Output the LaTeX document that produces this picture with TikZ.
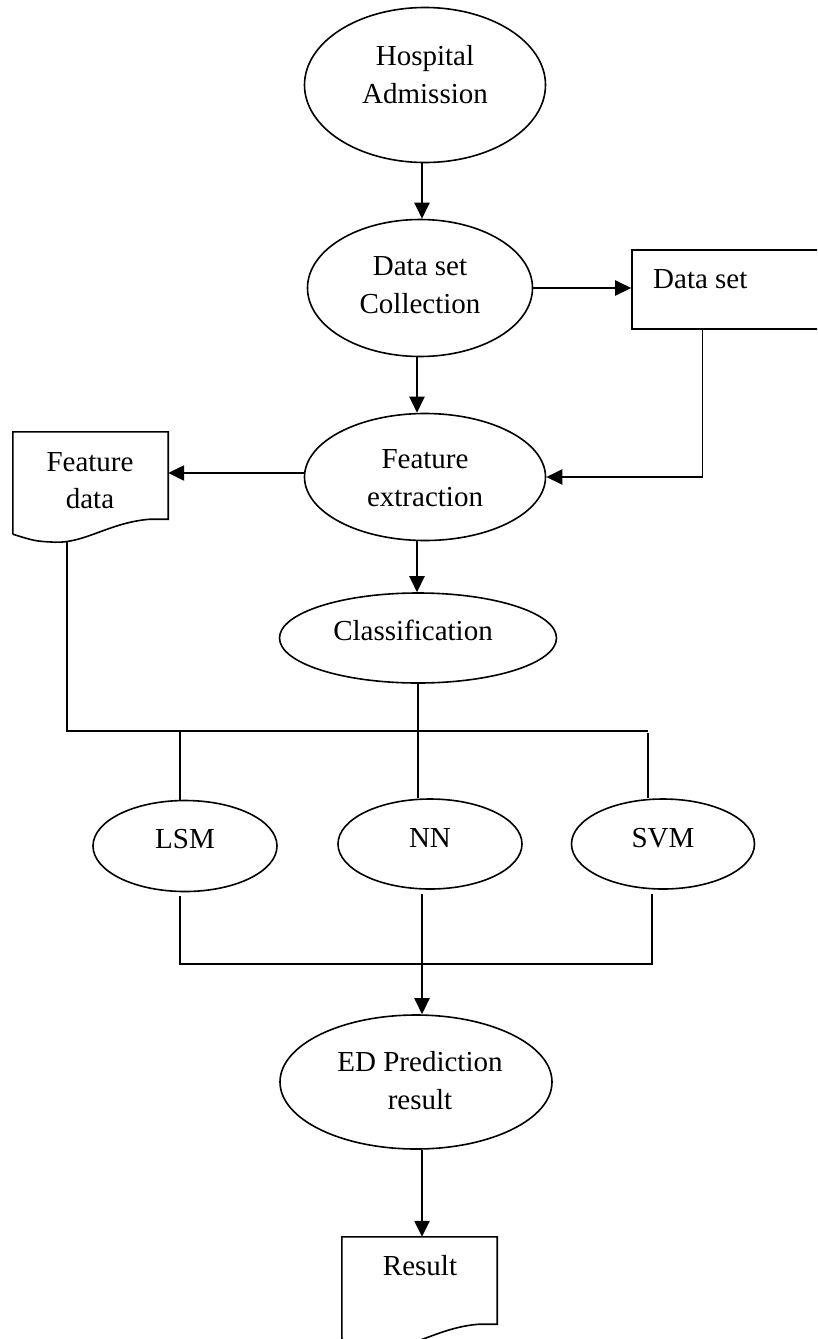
\documentclass[tikz,border=0pt]{standalone}
\usepackage{fontspec}
\setmainfont{Liberation Serif}
\usetikzlibrary{shapes.geometric,arrows.meta,calc}
\begin{document}
\begin{tikzpicture}[x=1pt,y=-1pt,
  ell/.style={ellipse, draw, line width=1.6pt, inner sep=0pt},
  boxline/.style={draw, line width=1.6pt},
  arr/.style={line width=2.4pt, -{Triangle[length=16pt,width=15pt]}},
  ln/.style={line width=1.4pt},
  txt/.style={anchor=base, inner sep=0pt, font=\fontsize{29}{38}\selectfont}]
\useasboundingbox (0,0) rectangle (817,1339);
\clip (0,0) rectangle (817,1339);

% ellipses
\node[ell, minimum width=241pt, minimum height=155pt] (hosp) at (425,85) {};
\node[txt] (hospA) at (425,65) {Hospital};
\node[txt] (hospB) at (425,103) {Admission};

\node[ell, minimum width=225pt, minimum height=137pt] (coll) at (420,288) {};
\node[txt] (collA) at (420,275) {Data set};
\node[txt] (collB) at (420,313) {Collection};

\node[ell, minimum width=241pt, minimum height=127pt] (feat) at (425,477) {};
\node[txt] (featA) at (425,468) {Feature};
\node[txt] (featB) at (425,506) {extraction};

\node[ell, minimum width=277pt, minimum height=90pt] (class) at (418,638) {};
\node[txt] (classA) at (413,640) {Classification};

\node[ell, minimum width=184pt, minimum height=91pt] (lsm) at (185,846) {};
\node[txt] (lsmA) at (185,848) {LSM};
\node[ell, minimum width=184pt, minimum height=90pt] (nn) at (430,844) {};
\node[txt] (nnA) at (430,847) {NN};
\node[ell, minimum width=183pt, minimum height=90pt] (svm) at (663,844) {};
\node[txt] (svmA) at (663,847) {SVM};

\node[ell, minimum width=272pt, minimum height=134pt] (ed) at (416,1082) {};
\node[txt] (edA) at (420,1071) {ED Prediction};
\node[txt] (edB) at (420,1109) {result};

% data set box
\node[boxline, minimum width=198pt, minimum height=79pt, inner sep=0pt] (ds) at (731,289.5) {};
\node[txt, anchor=base west] (dsA) at (653,288) {Data set};

% feature data document
\node[minimum width=155pt, minimum height=102pt, inner sep=0pt] (fd) at (90.5,483) {};
\draw[boxline] (fd.south west) -- (fd.north west) -- (fd.north east) -- ([yshift=15pt]fd.south east)
  -- ([shift={(-18pt,15pt)}]fd.south east)
  .. controls ([shift={(-58pt,12pt)}]fd.south east) and ([shift={(-83pt,-9pt)}]fd.south east) .. ([shift={(-113pt,-8pt)}]fd.south east)
  .. controls ([shift={(-133pt,-7pt)}]fd.south east) .. (fd.south west);
\node[txt] (fdA) at (90,471) {Feature};
\node[txt] (fdB) at (90,508) {data};

% result document
\node[minimum width=155pt, minimum height=102pt, inner sep=0pt] (res) at (419.5,1288) {};
\draw[boxline] (res.south west) -- (res.north west) -- (res.north east) -- ([yshift=15pt]res.south east)
  -- ([shift={(-18pt,15pt)}]res.south east)
  .. controls ([shift={(-58pt,12pt)}]res.south east) and ([shift={(-83pt,-9pt)}]res.south east) .. ([shift={(-113pt,-8pt)}]res.south east)
  .. controls ([shift={(-133pt,-7pt)}]res.south east) .. (res.south west);
\node[txt] (resA) at (420,1275) {Result};

% connectors
\draw[arr] ([xshift=-3pt]hosp.south) -- ([xshift=-3pt]hosp.south |- coll.north);
\draw[arr] (coll.east) -- (coll.east -| ds.west);
\coordinate (dsb) at ([xshift=71pt]ds.south west);
\draw[ln] (dsb) -- (dsb |- feat.east);
\draw[arr] ([xshift=0.7pt]dsb |- feat.east) -- (feat.east);
\draw[arr] ([xshift=-3pt]coll.south) -- ([xshift=-3pt]coll.south |- feat.north);
\draw[arr] ([yshift=4pt]feat.west) -- ([yshift=4pt]feat.west -| fd.east);
\draw[arr] ([xshift=-8pt]feat.south) -- ([xshift=-8pt]feat.south |- class.north);

\coordinate (fdb) at ([shift={(54pt,-8pt)}]fd.south west);
\coordinate (busr) at (648,731);
\draw[ln] (fdb) |- (busr);
\draw[ln] (class.south) -- (class.south |- nn.north);
\draw[ln] ([xshift=-5pt]lsm.north |- busr) -- ([xshift=-5pt]lsm.north);
\draw[ln] ([yshift=-2pt]busr) -- (busr |- svm.north);

\coordinate (busb) at (652,964);
\draw[ln] ([shift={(-5pt,-4pt)}]lsm.south) |- (busb) -- ([shift={(-11pt,-4pt)}]svm.south);
\draw[arr] ([shift={(-8pt,-4pt)}]nn.south) -- ([xshift=-8pt]nn.south |- ed.north);
\draw[arr] ([xshift=6pt]ed.south) -- ([xshift=6pt]ed.south |- res.north);
\end{tikzpicture}
\end{document}
